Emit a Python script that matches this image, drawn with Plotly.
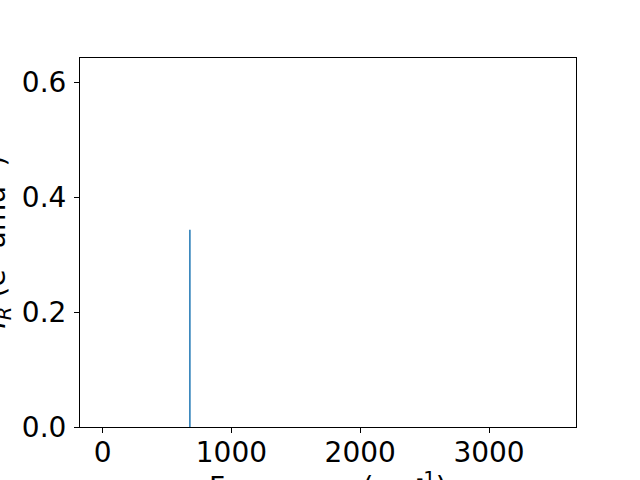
import plotly.graph_objects as go

frequencies = [678.0]
intensities = [0.343]
x_ticks = [0, 1000, 2000, 3000]
y_ticks = [0.0, 0.2, 0.4, 0.6]
x_label = "Frequency (cm<sup>-1</sup>)"
y_label = "<i>I</i><sub><i>R</i></sub> (e<sup>2</sup> amu<sup>-1</sup>)"

xs, ys = [], []
for f, i in zip(frequencies, intensities):
    xs += [f, f, None]
    ys += [0, i, None]

fig = go.Figure()
fig.add_trace(go.Scatter(x=xs, y=ys, mode="lines",
                         line=dict(color="#1f77b4", width=1.5), showlegend=False,
                         hoverinfo="skip"))

W, H = 640, 480
L, R, T, B = 80, 64, 58, 53
pw, ph = W - L - R, H - T - B

fig.update_layout(
    width=W, height=H,
    margin=dict(l=L, r=R, t=T, b=B),
    paper_bgcolor="white", plot_bgcolor="white",
    font=dict(family="DejaVu Sans", size=28, color="black"),
    xaxis=dict(range=[-175, 3675], tickvals=x_ticks, ticktext=[str(v) for v in x_ticks],
               ticks="outside", ticklen=5, tickwidth=1, tickcolor="black",
               showline=True, linecolor="black", linewidth=1, mirror=True,
               showgrid=False, zeroline=False, ticklabelstandoff=-5, automargin=False),
    yaxis=dict(range=[0, 0.642], tickvals=y_ticks, ticktext=[f"{v:.1f}" for v in y_ticks],
               ticks="outside", ticklen=5, tickwidth=1, tickcolor="black",
               showline=True, linecolor="black", linewidth=1, mirror=True,
               showgrid=False, zeroline=False, ticklabelstandoff=2, automargin=False),
    annotations=[
        dict(text=x_label, xref="paper", yref="paper", x=0.5, y=(427 - 485) / ph,
             xanchor="center", yanchor="middle", showarrow=False,
             font=dict(size=28)),
        dict(text=y_label, xref="paper", yref="paper", x=(-4 - L) / pw, y=0.5,
             xanchor="center", yanchor="middle", textangle=-90, showarrow=False,
             font=dict(size=28)),
    ],
)

fig.write_html("out.html", config={"displayModeBar": False},
               post_script="document.body.style.margin='0';")
